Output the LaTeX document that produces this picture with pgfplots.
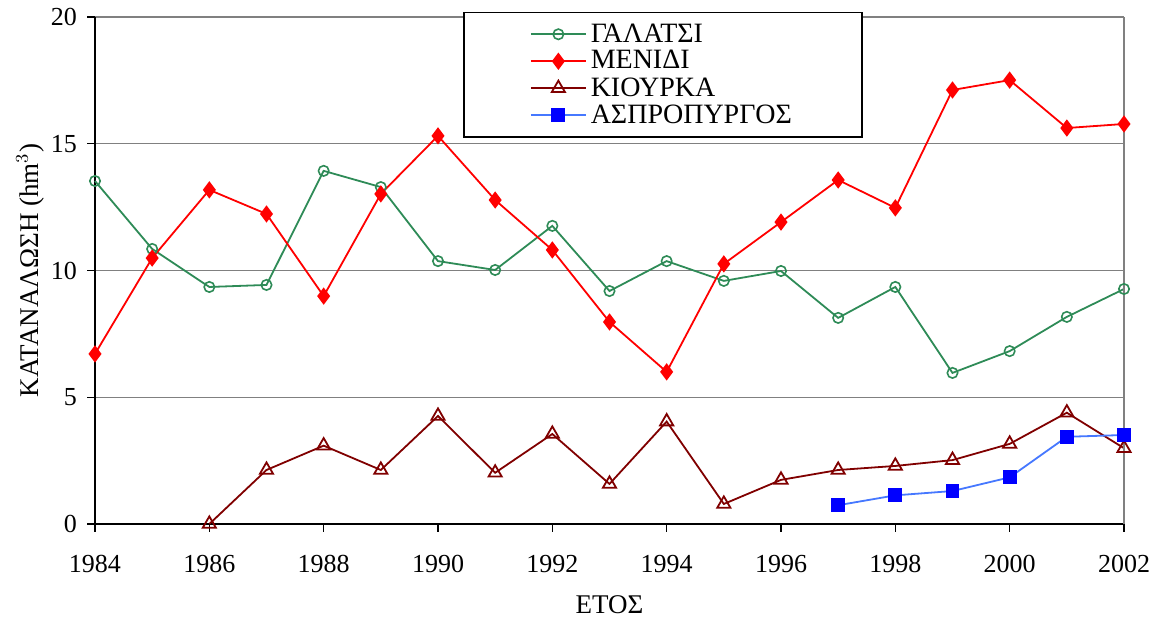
\documentclass[border=0pt]{standalone}
\usepackage{pgfplots}
\pgfplotsset{compat=1.18}
\usepackage{fontspec}
\setmainfont{Liberation Serif}
\definecolor{gal}{RGB}{46,139,87}
\definecolor{kio}{RGB}{128,0,0}
\definecolor{asl}{RGB}{70,120,255}
\begin{document}
\begin{tikzpicture}
\useasboundingbox (-47.5pt,-47.5pt) rectangle (531pt,262pt);
\begin{axis}[
  at={(0,0)}, anchor=south west,
  scale only axis, width=514.5pt, height=253.5pt,
  xmin=1984, xmax=2002, ymin=0, ymax=20,
  xtick={1984,1986,...,2002}, ytick={0,5,10,15,20},
  /pgf/number format/assume math mode=true,
  xticklabel style={/pgf/number format/1000 sep={}, yshift=-8pt},
  yticklabel style={xshift=-1.5pt},
  tick label style={font=\fontsize{13}{15}\selectfont},
  axis x line*=bottom, axis y line*=left,
  axis line style={black, line width=0.9pt},
  tick align=outside, major tick length=4pt,
  tick style={black, line width=0.6pt},
  ymajorgrids, grid style={gray, line width=0.6pt},
  xlabel={ΕΤΟΣ}, ylabel={ΚΑΤΑΝΑΛΩΣΗ (hm$^{3}$)},
  label style={font=\fontsize{13.5}{15}\selectfont},
  xlabel style={at={(0.5,-0.16)}, anchor=center},
  ylabel style={at={(-0.063,0.5)}, anchor=center},
  legend style={at={(0.358,1.01)}, anchor=north west, draw=black, line width=0.6pt,
    font=\fontsize{14}{15}\selectfont, inner xsep=33pt, inner ysep=3.5pt,
    row sep=-1.25pt, fill=white,
    /tikz/every even column/.append style={column sep=2.5pt}},
  legend cell align=left,
  legend image code/.code={
    \draw[mark repeat=2,mark phase=2] plot coordinates {(0pt,0pt) (13.75pt,0pt) (27.5pt,0pt)};
  },
  clip=false,
]
\addplot[gal, line width=0.9pt, mark=o, mark size=2.6pt, mark options={line width=0.8pt, fill=white}] coordinates {
(1984,13.53)(1985,10.85)(1986,9.35)(1987,9.43)(1988,13.93)(1989,13.29)(1990,10.37)(1991,10.02)(1992,11.76)(1993,9.19)(1994,10.37)(1995,9.59)(1996,9.98)(1997,8.13)(1998,9.35)(1999,5.96)(2000,6.82)(2001,8.17)(2002,9.27)};
\addlegendentry{ΓΑΛΑΤΣΙ}
\addplot[red, line width=0.9pt, mark=diamond*, mark size=3.6pt, mark options={fill=red}] coordinates {
(1984,6.71)(1985,10.49)(1986,13.18)(1987,12.23)(1988,8.99)(1989,13.02)(1990,15.31)(1991,12.78)(1992,10.81)(1993,7.97)(1994,6.0)(1995,10.26)(1996,11.91)(1997,13.57)(1998,12.47)(1999,17.12)(2000,17.51)(2001,15.62)(2002,15.78)};
\addlegendentry{ΜΕΝΙΔΙ}
\addplot[kio, line width=0.9pt, mark=triangle, mark size=3.8pt, mark options={line width=0.9pt, fill=white}] coordinates {
(1986,0)(1987,2.13)(1988,3.09)(1989,2.13)(1990,4.26)(1991,2.02)(1992,3.55)(1993,1.58)(1994,4.04)(1995,0.79)(1996,1.74)(1997,2.13)(1998,2.29)(1999,2.52)(2000,3.16)(2001,4.39)(2002,2.99)};
\addlegendentry{ΚΙΟΥΡΚΑ}
\addplot[asl, line width=0.9pt, mark=square*, mark size=3pt, mark options={blue, fill=blue}] coordinates {
(1997,0.74)(1998,1.13)(1999,1.30)(2000,1.84)(2001,3.44)(2002,3.51)};
\addlegendentry{ΑΣΠΡΟΠΥΡΓΟΣ}
\draw[gray, line width=0.6pt] (rel axis cs:1,0) -- (rel axis cs:1,1);
\end{axis}
\end{tikzpicture}
\end{document}
